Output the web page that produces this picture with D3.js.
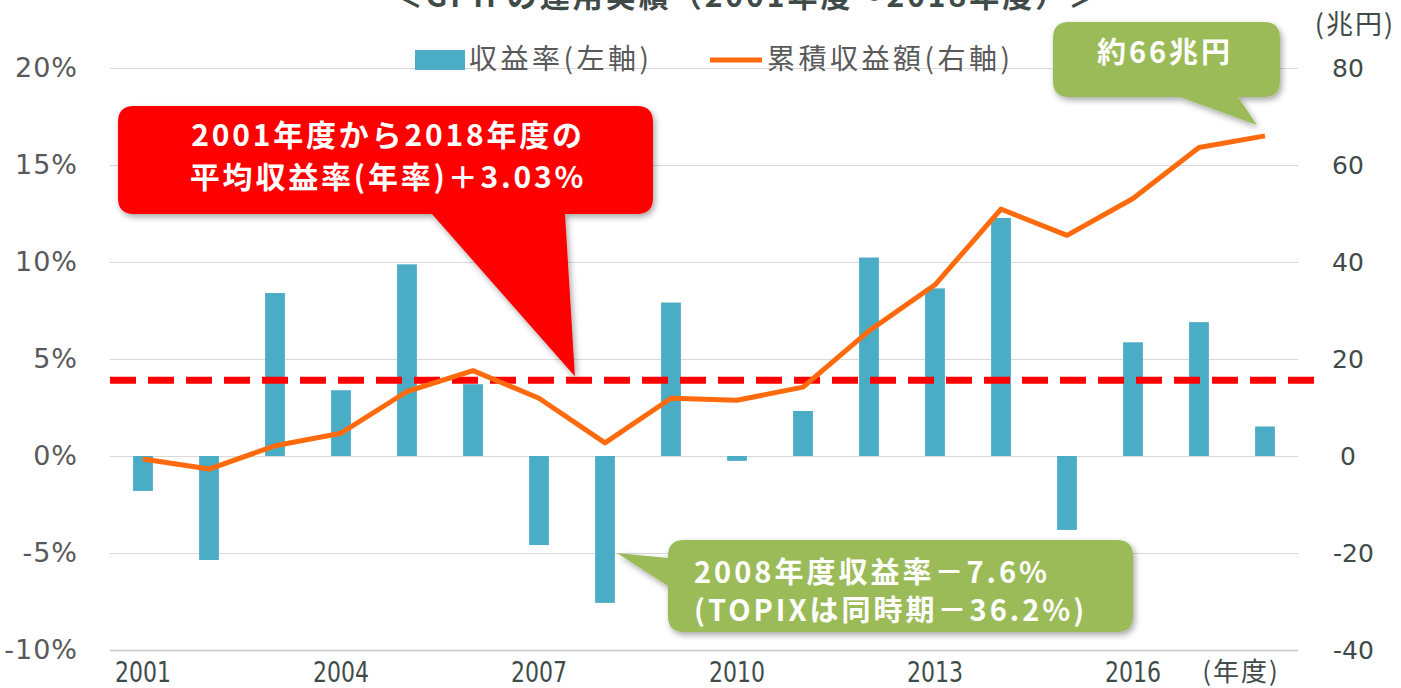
<!DOCTYPE html>
<html>
<head>
<meta charset="utf-8">
<script src="https://cdn.jsdelivr.net/npm/d3@7"></script>
<style>
  body { margin: 0; background: #fff; }
  svg { display: block; }
  .tick-left { font-family: "DejaVu Sans", Verdana, sans-serif; font-size: 27px; letter-spacing: 1px; fill: #595959; }
  .tick-right { font-family: "DejaVu Sans", Verdana, sans-serif; font-size: 25px; fill: #3f4b49; }
  .tick-x { font-family: "DejaVu Sans Condensed", "DejaVu Sans", sans-serif; font-stretch: condensed; font-size: 28px; fill: #3f4b49; }
  .jp { font-family: "Noto Sans CJK JP", sans-serif; }
</style>
</head>
<body>
<div class="chart"></div>
<script>
const years = [2001, 2002, 2003, 2004, 2005, 2006, 2007, 2008, 2009, 2010, 2011, 2012, 2013, 2014, 2015, 2016, 2017, 2018];
// 収益率 (%)
const returnRates = [-1.8, -5.36, 8.4, 3.39, 9.88, 3.7, -4.59, -7.57, 7.91, -0.25, 2.32, 10.23, 8.64, 12.27, -3.81, 5.86, 6.9, 1.52];
// 累積収益額 (兆円)
const cumulative = [-0.6, -2.7, 2.1, 4.7, 13.3, 17.6, 11.9, 2.7, 11.9, 11.5, 14.2, 25.8, 35.3, 50.9, 45.5, 53.1, 63.6, 66.0];
const leftTicks = [-10, -5, 0, 5, 10, 15, 20];
const rightTicks = [-40, -20, 0, 20, 40, 60, 80];
const xTickYears = [2001, 2004, 2007, 2010, 2013, 2016];
const averageLine = 3.9;

const width = 1401, height = 688;
const plot = { left: 110, right: 1298, top: 68, bottom: 650 };

const svg = d3.select(".chart").append("svg")
  .attr("width", width)
  .attr("height", height);

const defs = svg.append("defs");
const shadow = defs.append("filter").attr("id", "shadow")
  .attr("x", "-10%").attr("y", "-10%").attr("width", "130%").attr("height", "140%");
shadow.append("feDropShadow")
  .attr("dx", 2).attr("dy", 3).attr("stdDeviation", 3)
  .attr("flood-color", "#000").attr("flood-opacity", 0.35);

const x = d3.scaleBand()
  .domain(years)
  .range([plot.left, plot.right])
  .paddingInner(0.7)
  .paddingOuter(0.35);

const yLeft = d3.scaleLinear().domain([-10, 20]).range([plot.bottom, plot.top]);
const yRight = d3.scaleLinear().domain([-40, 80]).range([plot.bottom, plot.top]);

// title (cut off at the top, as in the source)
svg.append("text")
  .attr("class", "jp")
  .attr("x", 747).attr("y", 7)
  .attr("text-anchor", "middle")
  .attr("font-size", 30).attr("font-weight", "bold")
  .attr("letter-spacing", 3)
  .attr("fill", "#3f4b49")
  .text("＜GPIFの運用実績（2001年度～2018年度）＞");

// gridlines
svg.append("g")
  .selectAll("line")
  .data(leftTicks)
  .enter()
  .append("line")
  .attr("x1", plot.left)
  .attr("x2", plot.right)
  .attr("y1", d => yLeft(d) + 0.5)
  .attr("y2", d => yLeft(d) + 0.5)
  .attr("stroke", d => d === -10 ? "#c8c8c8" : "#d9d9d9")
  .attr("stroke-width", d => d === -10 ? 1.5 : 1);

// left axis
const leftAxis = svg.append("g")
  .attr("transform", "translate(78,0)")
  .call(d3.axisLeft(yLeft).tickValues(leftTicks).tickSize(0).tickPadding(0).tickFormat(d => d + "%"))
  .call(g => g.select(".domain").remove());
leftAxis.selectAll("text").attr("class", "tick-left").attr("font-family", null).attr("font-size", null).attr("fill", null);

// right axis
const rightAxis = svg.append("g")
  .attr("transform", "translate(1331,0)")
  .call(d3.axisRight(yRight).tickValues(rightTicks).tickSize(0).tickPadding(0).tickFormat(d => String(d)))
  .call(g => g.select(".domain").remove());
rightAxis.selectAll("text").attr("class", "tick-right").attr("font-family", null).attr("font-size", null).attr("fill", null)
  .attr("dx", d => d === 0 ? 9 : (d > 0 ? 1 : 2));

// x axis labels (tall, narrow digits)
const xAxis = svg.append("g")
  .attr("transform", "translate(0," + plot.bottom + ")")
  .call(d3.axisBottom(x).tickValues(xTickYears).tickSize(0).tickPadding(12))
  .call(g => g.select(".domain").remove());
xAxis.selectAll("text").attr("class", "tick-x").attr("font-family", null).attr("font-size", null).attr("fill", null)
  .attr("textLength", 56).attr("lengthAdjust", "spacingAndGlyphs");

svg.append("text")
  .attr("class", "jp")
  .attr("x", 1241).attr("y", 681)
  .attr("text-anchor", "middle")
  .attr("font-size", 26).attr("letter-spacing", 2).attr("fill", "#3f4b49")
  .text("(年度)");

svg.append("text")
  .attr("class", "jp")
  .attr("x", 1355).attr("y", 34)
  .attr("text-anchor", "middle")
  .attr("font-size", 27).attr("letter-spacing", 2).attr("fill", "#3f4b49")
  .text("(兆円)");

// bars
svg.append("g")
  .selectAll("rect")
  .data(years)
  .enter()
  .append("rect")
  .attr("x", d => x(d))
  .attr("width", x.bandwidth())
  .attr("y", (d, i) => yLeft(Math.max(0, returnRates[i])))
  .attr("height", (d, i) => Math.abs(yLeft(returnRates[i]) - yLeft(0)))
  .attr("fill", "#4bacc6");

// average dashed line
svg.append("line")
  .attr("x1", plot.left)
  .attr("x2", 1320)
  .attr("y1", yLeft(averageLine))
  .attr("y2", yLeft(averageLine))
  .attr("stroke", "#ff0000")
  .attr("stroke-width", 7)
  .attr("stroke-dasharray", "26,12");

// cumulative line
const line = d3.line()
  .x((d, i) => x(years[i]) + x.bandwidth() / 2)
  .y(d => yRight(d));

svg.append("path")
  .datum(cumulative)
  .attr("d", line)
  .attr("fill", "none")
  .attr("stroke", "#ff6a0d")
  .attr("stroke-width", 5)
  .attr("stroke-linejoin", "round");

// legend
const legend = svg.append("g").attr("class", "jp");
legend.append("rect")
  .attr("x", 415).attr("y", 50).attr("width", 50).attr("height", 20)
  .attr("fill", "#4bacc6");
legend.append("text")
  .attr("x", 469).attr("y", 69)
  .attr("font-size", 28).attr("letter-spacing", 3.5).attr("fill", "#595959")
  .text("収益率(左軸)");
legend.append("line")
  .attr("x1", 710).attr("x2", 762).attr("y1", 60).attr("y2", 60)
  .attr("stroke", "#ff6a0d").attr("stroke-width", 5);
legend.append("text")
  .attr("x", 767).attr("y", 69)
  .attr("font-size", 28).attr("letter-spacing", 3.5).attr("fill", "#595959")
  .text("累積収益額(右軸)");

// callout helper: rounded box + tail
function callout(box, tail, fill) {
  const r = 16;
  const { x0, y0, x1, y1 } = box;
  const p = d3.path();
  p.moveTo(x0 + r, y0);
  p.lineTo(x1 - r, y0);
  p.quadraticCurveTo(x1, y0, x1, y0 + r);
  p.lineTo(x1, y1 - r);
  p.quadraticCurveTo(x1, y1, x1 - r, y1);
  if (tail.side === "bottom") {
    p.lineTo(tail.b, y1);
    p.lineTo(tail.px, tail.py);
    p.lineTo(tail.a, y1);
  }
  p.lineTo(x0 + r, y1);
  p.quadraticCurveTo(x0, y1, x0, y1 - r);
  if (tail.side === "left") {
    p.lineTo(x0, tail.b);
    p.lineTo(tail.px, tail.py);
    p.lineTo(x0, tail.a);
  }
  p.lineTo(x0, y0 + r);
  p.quadraticCurveTo(x0, y0, x0 + r, y0);
  p.closePath();
  svg.append("path")
    .attr("d", p.toString())
    .attr("fill", fill)
    .attr("filter", "url(#shadow)");
}

function calloutText(lines, xPos, yPos, anchor, size, gap, spacing) {
  const t = svg.append("text")
    .attr("class", "jp")
    .attr("font-size", size)
    .attr("font-weight", "bold")
    .attr("letter-spacing", spacing)
    .attr("fill", "#fff")
    .attr("text-anchor", anchor);
  lines.forEach((s, i) => {
    t.append("tspan").attr("x", xPos).attr("y", yPos + i * gap).text(s);
  });
}

// red callout: average return
callout({ x0: 118, y0: 106, x1: 653, y1: 214 },
  { side: "bottom", a: 432, b: 565, px: x(2007) + x.bandwidth() + 26, py: yLeft(averageLine) - 4 }, "#ff0000");
calloutText(["2001年度から2018年度の", "平均収益率(年率)＋3.03%"], 388, 146, "middle", 30, 42, 2.8);

// green callout: 2008
callout({ x0: 668, y0: 540, x1: 1133, y1: 632 },
  { side: "left", a: 558, b: 586, px: x(2008) + x.bandwidth() + 2, py: yLeft(-5) }, "#9bbb59");
calloutText(["2008年度収益率－7.6%", "(TOPIXは同時期－36.2%)"], 694, 583, "start", 29, 38, 3);

// green callout: total
callout({ x0: 1053, y0: 22, x1: 1280, y1: 97 },
  { side: "bottom", a: 1180, b: 1238, px: x(2018) + x.bandwidth() / 2 - 8, py: yRight(cumulative[17]) - 11 }, "#9bbb59");
calloutText(["約66兆円"], 1165, 63, "middle", 29, 0, 3);
</script>
</body>
</html>
